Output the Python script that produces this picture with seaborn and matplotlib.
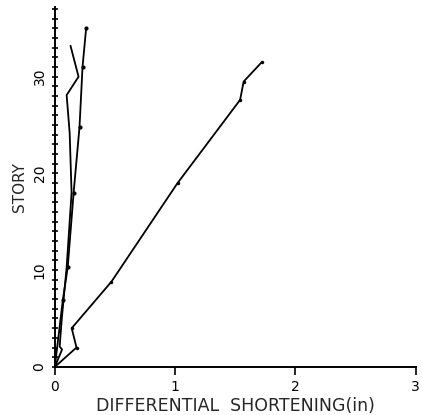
import pandas as pd
import seaborn as sns
import matplotlib.pyplot as plt
from matplotlib.ticker import MultipleLocator

sns.set_theme(style="ticks")
plt.rcParams['font.family'] = ['DejaVu Sans']

# curva larga (derecha)
a_x = [0.0, 0.18, 0.14, 0.47, 1.02, 1.54, 1.57, 1.72]
a_y = [0.0, 2.0, 4.0, 8.8, 19.0, 27.6, 29.5, 31.5]

# curva con puntos (llega al tope)
b_x = [0.0, 0.066, 0.107, 0.156, 0.205, 0.23, 0.26]
b_y = [0.0, 6.9, 10.3, 18.0, 24.8, 31.0, 35.0]

# curva con quiebre arriba
c_x = [0.0, 0.06, 0.04, 0.057, 0.098, 0.139, 0.123, 0.098, 0.197, 0.13]
c_y = [0.0, 1.8, 2.1, 4.9, 10.3, 18.0, 24.2, 28.1, 30.0, 33.2]

x_ticks = [0, 1, 2, 3]
y_ticks = [0, 10, 20, 30]

fig = plt.figure(figsize=(4.22, 4.15), dpi=100)
ax = fig.add_axes([0.13, 0.116, 0.855, 0.867])

sns.lineplot(x=a_x, y=a_y, sort=False, estimator=None, color="black",
             lw=1.3, marker="o", markersize=2.5, markeredgewidth=0, ax=ax)
sns.lineplot(x=b_x, y=b_y, sort=False, estimator=None, color="black",
             lw=1.3, marker="o", markersize=3, markeredgewidth=0, ax=ax)
sns.lineplot(x=c_x, y=c_y, sort=False, estimator=None, color="black",
             lw=1.3, ax=ax)

ax.set_xlim(0, 3)
ax.set_ylim(0, 37.2)
ax.set_xticks(x_ticks)
ax.set_xticklabels([str(t) for t in x_ticks], fontsize=10)
ax.yaxis.set_minor_locator(MultipleLocator(1))
ax.set_yticks(y_ticks)
ax.set_yticklabels([str(t) for t in y_ticks], rotation=90, va="center", fontsize=10)
ax.tick_params(axis="y", which="both", direction="inout", length=5, width=1.2, colors="black")
ax.tick_params(axis="y", which="minor", length=4)
ax.tick_params(axis="x", direction="out", length=6, width=1.2, colors="black")

sns.despine(ax=ax)
for s in ["left", "bottom"]:
    ax.spines[s].set_color("black")
    ax.spines[s].set_linewidth(1.4)

ax.set_xlabel("DIFFERENTIAL  SHORTENING(in)", fontsize=12.5, labelpad=2)
ax.set_ylabel("STORY", fontsize=11, labelpad=4)

plt.savefig("out.png", dpi=100)
